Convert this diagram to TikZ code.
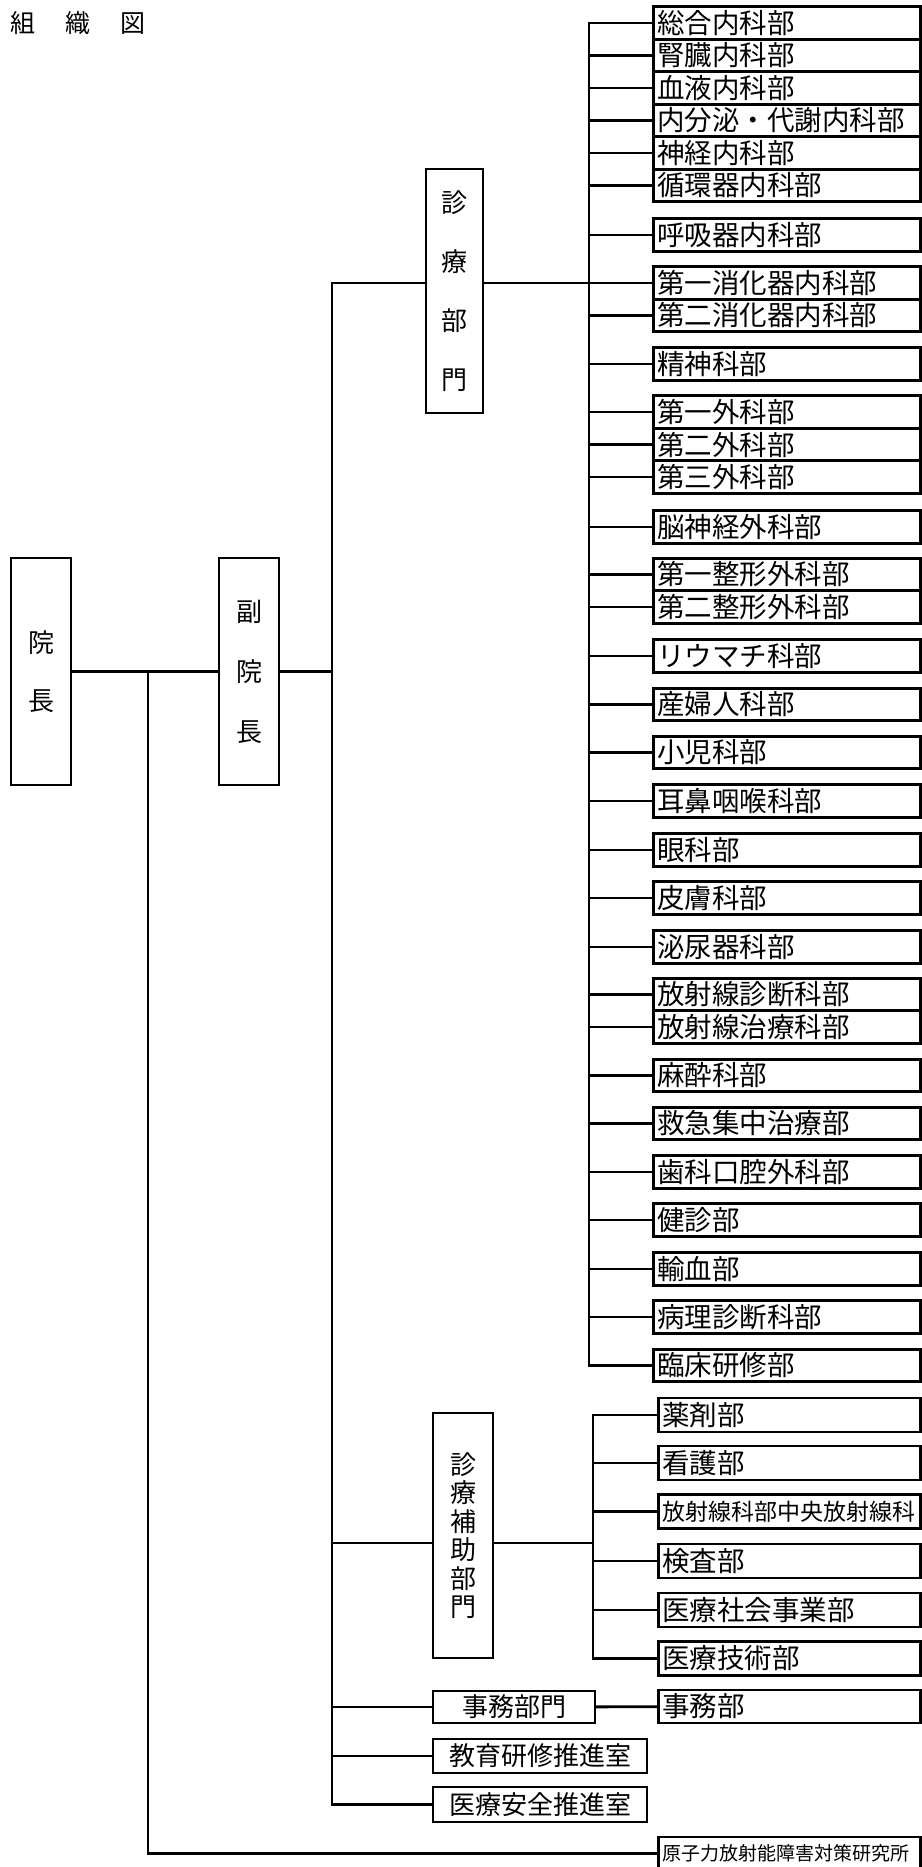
\documentclass[tikz,border=0pt]{standalone}
\usepackage{fontspec}
\setmainfont{Noto Sans CJK JP}
\tikzset{
  wire/.style={line width=2.8pt, line cap=rect},
  unit/.style={draw, line width=2.8pt, anchor=west, minimum height=32.5pt,
    inner xsep=4pt, inner ysep=0pt, text width=259pt, align=left,
    font=\fontsize{27.5}{30}\selectfont},
  subunit/.style={unit, text width=254pt, minimum height=34pt},
  post/.style={draw, line width=2.8pt, inner sep=0pt, align=center,
    font=\fontsize{26}{30}\selectfont},
}
\begin{document}
\begin{tikzpicture}[x=1pt, y=-1pt]
  \useasboundingbox (0,0) rectangle (921,1867);
  \node[anchor=west, font=\fontsize{25}{25}\selectfont] (title) at (7,23) {組\hspace{30pt}織\hspace{30pt}図};
  \draw
    (41,671.5) node[post, minimum width=60pt, minimum height=227pt, font=\fontsize{26}{58}\selectfont] (in){院\\長}
    (249,671.5) node[post, minimum width=60pt, minimum height=227pt, font=\fontsize{26}{60}\selectfont] (fuku){副\\院\\長}
    (454.5,291) node[post, minimum width=57pt, minimum height=244pt, font=\fontsize{26}{59}\selectfont] (bumon){診\\療\\部\\門}
    (463,1535.5) node[post, minimum width=60pt, minimum height=245pt, font=\fontsize{26}{28.5}\selectfont] (hojo){診\\療\\補\\助\\部\\門}
    (514,1707) node[post, minimum width=162pt, minimum height=32pt] (jimu){事務部門}
    (540,1756) node[post, minimum width=214pt, minimum height=34pt] (kyoiku){教育研修推進室}
    (540,1804.5) node[post, minimum width=214pt, minimum height=35pt] (anzen){医療安全推進室};
  \draw
    (652,23) node[unit] (d1){総合内科部}
    (652,55.5) node[unit] (d2){腎臓内科部}
    (652,88) node[unit] (d3){血液内科部}
    (652,120.5) node[unit] (d4){内分泌・代謝内科部}
    (652,153) node[unit] (d5){神経内科部}
    (652,185.5) node[unit] (d6){循環器内科部}
    (652,235) node[unit] (d7){呼吸器内科部}
    (652,283) node[unit] (d8){第一消化器内科部}
    (652,315.5) node[unit] (d9){第二消化器内科部}
    (652,364) node[unit] (d10){精神科部}
    (652,412) node[unit] (d11){第一外科部}
    (652,444.5) node[unit] (d12){第二外科部}
    (652,477) node[unit] (d13){第三外科部}
    (652,527) node[unit] (d14){脳神経外科部}
    (652,574.5) node[unit] (d15){第一整形外科部}
    (652,607) node[unit] (d16){第二整形外科部}
    (652,656) node[unit] (d17){リウマチ科部}
    (652,704.5) node[unit] (d18){産婦人科部}
    (652,752.5) node[unit] (d19){小児科部}
    (652,801) node[unit] (d20){耳鼻咽喉科部}
    (652,850) node[unit] (d21){眼科部}
    (652,898) node[unit] (d22){皮膚科部}
    (652,947) node[unit] (d23){泌尿器科部}
    (652,994.5) node[unit] (d24){放射線診断科部}
    (652,1027) node[unit] (d25){放射線治療科部}
    (652,1075.5) node[unit] (d26){麻酔科部}
    (652,1123.5) node[unit] (d27){救急集中治療部}
    (652,1172) node[unit] (d28){歯科口腔外科部}
    (652,1220) node[unit] (d29){健診部}
    (652,1269) node[unit] (d30){輸血部}
    (652,1317) node[unit] (d31){病理診断科部}
    (652,1365.5) node[unit] (d32){臨床研修部};
  \draw
    (657,1415) node[subunit] (s1){薬剤部}
    (657,1463) node[subunit] (s2){看護部}
    (657,1511.5) node[subunit, font=\fontsize{23}{25}\selectfont] (s3){放射線科部中央放射線科}
    (657,1561) node[subunit] (s4){検査部}
    (657,1610) node[subunit] (s5){医療社会事業部}
    (657,1658.5) node[subunit] (s6){医療技術部}
    (657,1706.5) node[subunit, minimum height=33pt] (s7){事務部}
    (657,1853.5) node[subunit, minimum height=33pt, font=\fontsize{19}{21}\selectfont] (genshi){原子力放射能障害対策研究所};
  \coordinate (t1) at (332,283);
  \coordinate (t2) at (332,1543);
  \coordinate (busA) at (589,0);
  \coordinate (busB) at (593,0);
  \coordinate (k) at (148,671.5);
  \begin{scope}[wire]
    \draw (in) to (fuku);
    \draw (fuku.east) -- (fuku.east -| t1);
    \draw (t1) -- (t1 |- anzen);
    \draw (t1) -- (t1 -| bumon.west);
    \draw (t1 -| bumon.east) -- (busA |- d8);
    \draw (busA |- d1) -- (busA |- d32);
    \draw (busA |- d1) to (d1);
    \draw (busA |- d2) to (d2);
    \draw (busA |- d3) to (d3);
    \draw (busA |- d4) to (d4);
    \draw (busA |- d5) to (d5);
    \draw (busA |- d6) to (d6);
    \draw (busA |- d7) to (d7);
    \draw (busA |- d8) to (d8);
    \draw (busA |- d9) to (d9);
    \draw (busA |- d10) to (d10);
    \draw (busA |- d11) to (d11);
    \draw (busA |- d12) to (d12);
    \draw (busA |- d13) to (d13);
    \draw (busA |- d14) to (d14);
    \draw (busA |- d15) to (d15);
    \draw (busA |- d16) to (d16);
    \draw (busA |- d17) to (d17);
    \draw (busA |- d18) to (d18);
    \draw (busA |- d19) to (d19);
    \draw (busA |- d20) to (d20);
    \draw (busA |- d21) to (d21);
    \draw (busA |- d22) to (d22);
    \draw (busA |- d23) to (d23);
    \draw (busA |- d24) to (d24);
    \draw (busA |- d25) to (d25);
    \draw (busA |- d26) to (d26);
    \draw (busA |- d27) to (d27);
    \draw (busA |- d28) to (d28);
    \draw (busA |- d29) to (d29);
    \draw (busA |- d30) to (d30);
    \draw (busA |- d31) to (d31);
    \draw (busA |- d32) to (d32);
    \draw (t2) -- (t2 -| hojo.west);
    \draw (t2 -| hojo.east) -- (t2 -| busB);
    \draw (busB |- s1) -- (busB |- s6);
    \draw (busB |- s1) to (s1);
    \draw (busB |- s2) to (s2);
    \draw (busB |- s3) to (s3);
    \draw (busB |- s4) to (s4);
    \draw (busB |- s5) to (s5);
    \draw (busB |- s6) to (s6);
    \draw (t1 |- jimu) to (jimu);
    \draw (jimu) to (s7);
    \draw (t1 |- kyoiku) to (kyoiku);
    \draw (t1 |- anzen) to (anzen);
    \draw (k) -- (k |- genshi) -- (genshi.west);
  \end{scope}
\end{tikzpicture}
\end{document}
